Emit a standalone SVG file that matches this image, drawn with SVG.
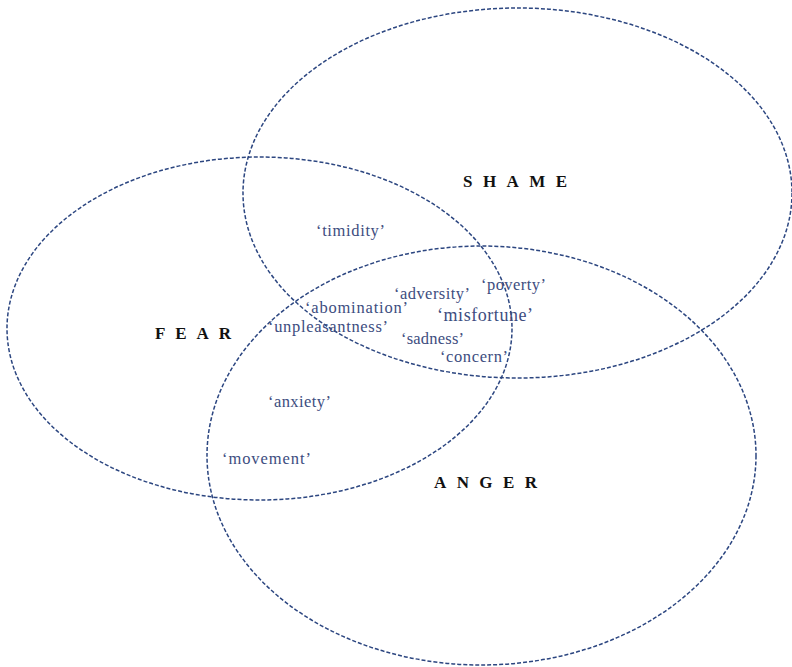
<svg xmlns="http://www.w3.org/2000/svg" width="792" height="667" viewBox="0 0 792 667">
<style>
.c{fill:none;stroke:#2c4680;stroke-width:1.5;stroke-dasharray:4 2}
.w{font-family:"Liberation Serif","DejaVu Serif",serif;font-size:16.5px;fill:#3d4d80}
.t{font-family:"Liberation Serif","DejaVu Serif",serif;font-size:17px;font-weight:bold;fill:#111}
</style>
<rect width="792" height="667" fill="#fff"/>
<g id="connectors">
<ellipse id="shame-circle" class="c" cx="517.5" cy="193" rx="274.5" ry="185"/>
<ellipse id="fear-circle" class="c" cx="259.5" cy="328.5" rx="252.5" ry="171.5"/>
<ellipse id="anger-circle" class="c" cx="481.5" cy="455.5" rx="274.5" ry="209.5"/>
</g>
<g id="shame"><text class="t" x="463" y="187" textLength="104" lengthAdjust="spacing">SHAME</text></g>
<g id="fear"><text class="t" x="155" y="339" textLength="76" lengthAdjust="spacing">FEAR</text></g>
<g id="anger"><text class="t" x="434" y="488" textLength="103" lengthAdjust="spacing">ANGER</text></g>
<g id="timidity"><text class="w" x="316" y="236" textLength="69">‘timidity’</text></g>
<g id="adversity"><text class="w" x="394" y="299" textLength="76">‘adversity’</text></g>
<g id="poverty"><text class="w" x="481" y="290" textLength="65">‘poverty’</text></g>
<g id="abomination"><text class="w" x="305" y="313" textLength="103">‘abomination’</text></g>
<g id="misfortune"><text class="w" x="437" y="321" textLength="96" style="font-size:18px">‘misfortune’</text></g>
<g id="unpleasantness"><text class="w" x="268" y="332" textLength="120">‘unpleasantness’</text></g>
<g id="sadness"><text class="w" x="401" y="344" textLength="63">‘sadness’</text></g>
<g id="concern"><text class="w" x="440" y="362" textLength="68">‘concern’</text></g>
<g id="anxiety"><text class="w" x="268" y="407" textLength="63">‘anxiety’</text></g>
<g id="movement"><text class="w" x="222" y="464" textLength="89">‘movement’</text></g>
</svg>
